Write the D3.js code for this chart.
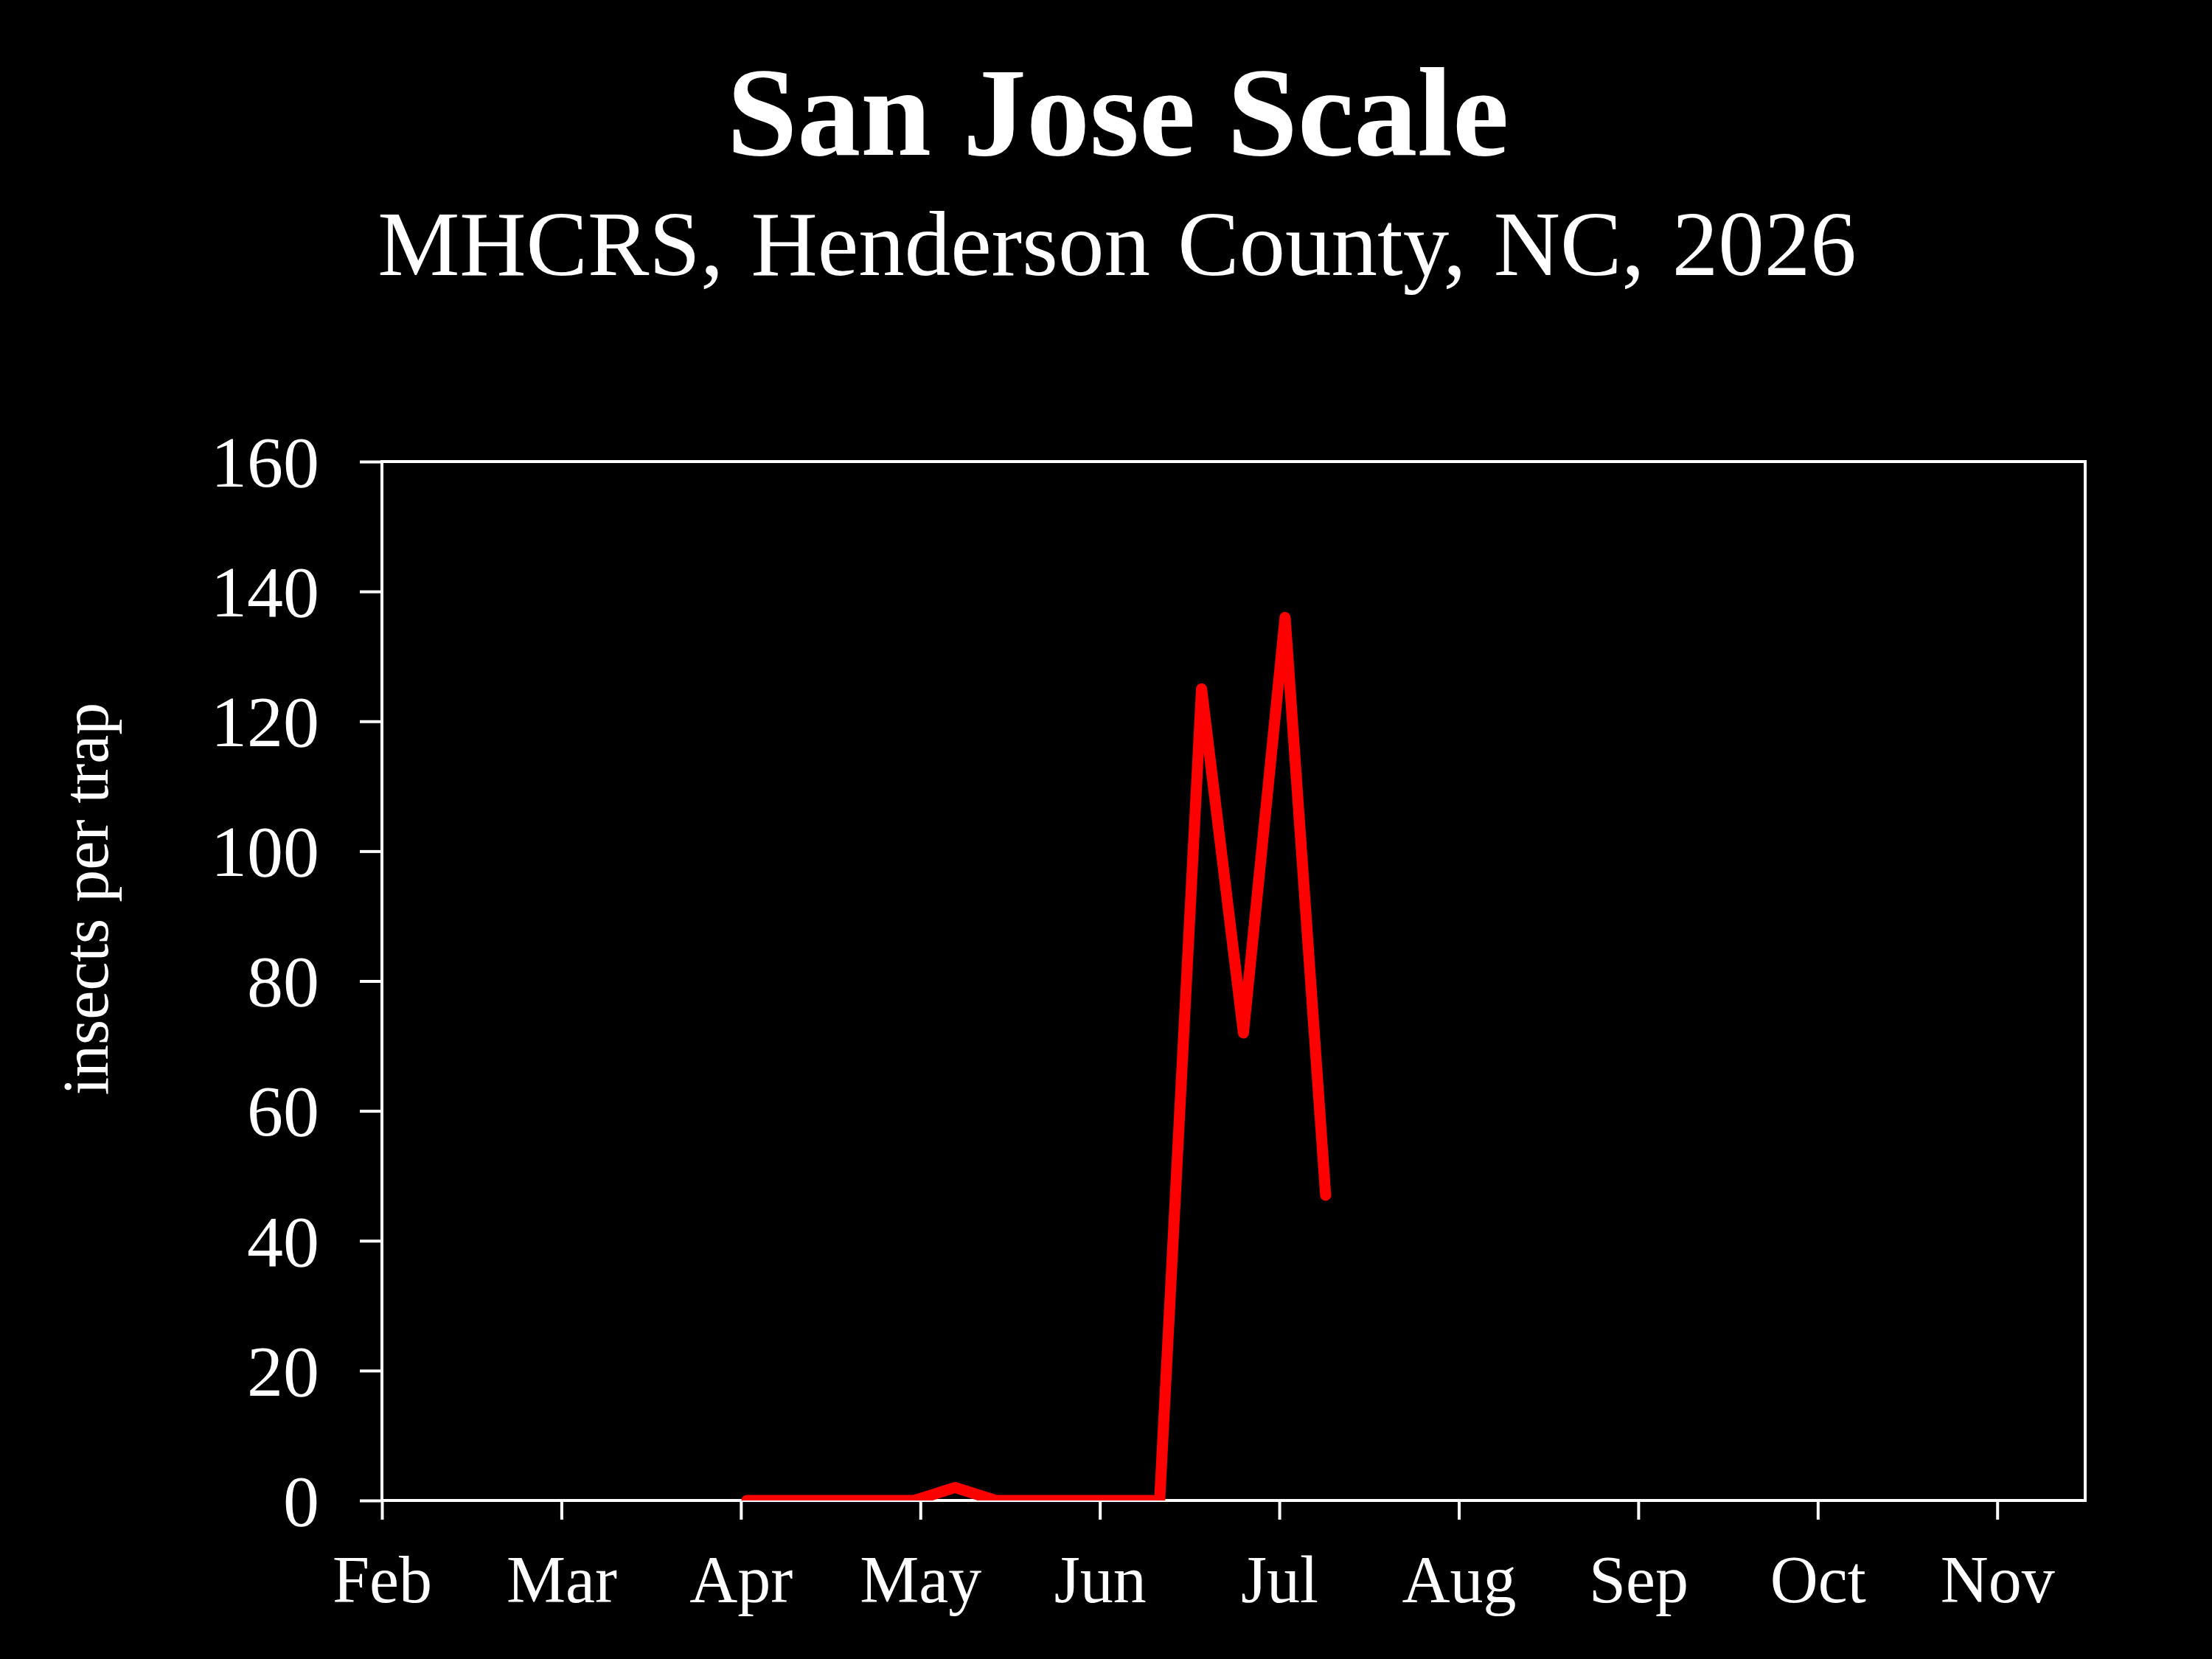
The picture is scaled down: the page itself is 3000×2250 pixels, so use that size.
<!DOCTYPE html>
<html>
<head>
<meta charset="utf-8">
<script src="https://cdn.jsdelivr.net/npm/d3@7"></script>
<style>
  body { margin: 0; background: #000; }
  svg text { font-family: "Liberation Serif", "Times New Roman", serif; fill: #fff; }
</style>
</head>
<body>
<script>
// chart data
var monthLabels = ["Feb", "Mar", "Apr", "May", "Jun", "Jul", "Aug", "Sep", "Oct", "Nov"];
var yTicks = [0, 20, 40, 60, 80, 100, 120, 140, 160];
var trapDates = ["2026-04-02", "2026-04-09", "2026-04-16", "2026-04-23", "2026-04-30",
                 "2026-05-07", "2026-05-14", "2026-05-21", "2026-05-28", "2026-06-04",
                 "2026-06-11", "2026-06-18", "2026-06-25", "2026-07-02", "2026-07-09"];
var trapCounts = [0, 0, 0, 0, 0, 2, 0, 0, 0, 0, 0, 125, 72, 136, 47];

var W = 3000, H = 2250;
var margin = {top: 626, right: 172, bottom: 215, left: 518},
    width = W - margin.left - margin.right,
    height = H - margin.top - margin.bottom;

var parseTime = d3.timeParse("%Y-%m-%d");

// months since Feb 1, months of equal width as on the original axis
function monthPos(date) {
    var m = date.getMonth() - 1;
    var days = new Date(date.getFullYear(), date.getMonth() + 1, 0).getDate();
    return m + (date.getDate() - 1) / days;
}

var data = trapDates.map(function(d, i) {
    return {pos: monthPos(parseTime(d)), count: trapCounts[i]};
});

var x = d3.scaleLinear().domain([0, 9.49]).range([0, width]);
var y = d3.scaleLinear().domain([0, 160]).range([height, 0]);

var svg = d3.select("body").append("svg")
    .attr("width", W)
    .attr("height", H);

svg.append("rect").attr("width", W).attr("height", H).attr("fill", "#000");

// titles
svg.append("text")
    .attr("x", 1516).attr("y", 210)
    .attr("text-anchor", "middle")
    .attr("font-size", 172)
    .attr("font-weight", "bold")
    .text("San Jose Scale");

svg.append("text")
    .attr("x", 1515).attr("y", 373)
    .attr("text-anchor", "middle")
    .attr("font-size", 125)
    .attr("word-spacing", 6)
    .text("MHCRS, Henderson County, NC, 2026");

// y label
svg.append("text")
    .attr("transform", "translate(146,1219) rotate(-90)")
    .attr("text-anchor", "middle")
    .attr("font-size", 88)
    .text("insects per trap");

var g = svg.append("g")
    .attr("transform", "translate(" + margin.left + "," + margin.top + ")");

g.append("clipPath").attr("id", "plotclip")
  .append("rect").attr("width", width).attr("height", height);

// x axis
var xAxis = g.append("g")
    .attr("transform", "translate(0," + height + ")")
    .call(d3.axisBottom(x)
        .tickValues(d3.range(monthLabels.length))
        .tickFormat(function(d) { return monthLabels[d]; })
        .tickSize(26).tickSizeOuter(0).tickPadding(48));
xAxis.select(".domain").remove();
xAxis.selectAll("line").attr("stroke", "#fff").attr("stroke-width", 4);
xAxis.selectAll("text")
    .attr("font-family", "Liberation Serif, Times New Roman, serif")
    .attr("font-size", 90).attr("fill", "#fff");

// y axis
var yAxis = g.append("g")
    .call(d3.axisLeft(y)
        .tickValues(yTicks)
        .tickSize(30).tickSizeOuter(0).tickPadding(55));
yAxis.select(".domain").remove();
yAxis.selectAll("line").attr("stroke", "#fff").attr("stroke-width", 4);
yAxis.selectAll("text")
    .attr("font-family", "Liberation Serif, Times New Roman, serif")
    .attr("font-size", 98).attr("fill", "#fff")
    .attr("dy", "0.34em");

// frame
g.append("rect")
    .attr("width", width).attr("height", height)
    .attr("fill", "none").attr("stroke", "#fff").attr("stroke-width", 4);

var valueline = d3.line()
    .x(function(d) { return x(d.pos); })
    .y(function(d) { return y(d.count); });

g.append("path")
    .datum(data)
    .attr("clip-path", "url(#plotclip)")
    .attr("fill", "none")
    .attr("stroke", "#ff0000")
    .attr("stroke-width", 15)
    .attr("stroke-linejoin", "round")
    .attr("stroke-linecap", "round")
    .attr("d", valueline);
</script>
</body>
</html>
